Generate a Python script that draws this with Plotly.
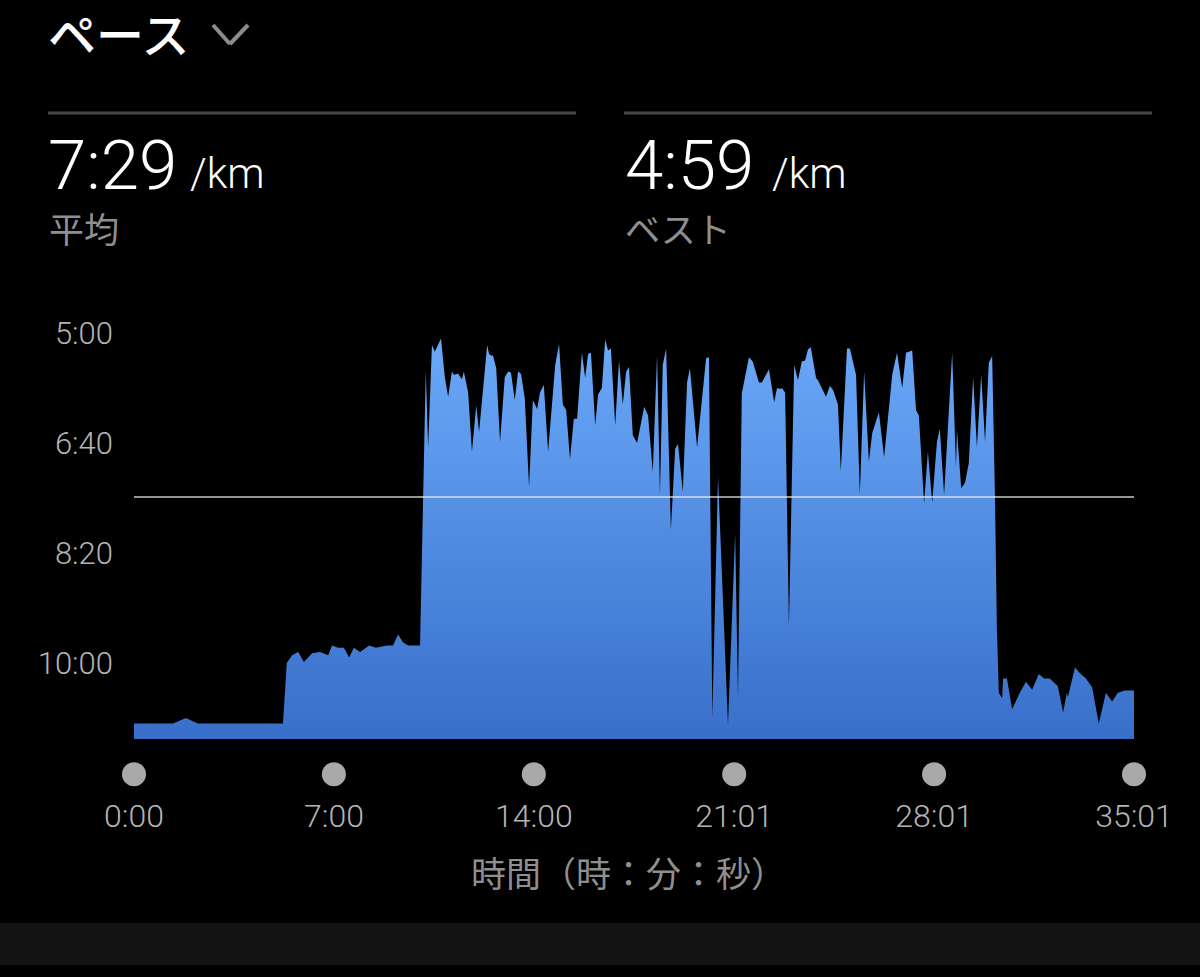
import plotly.graph_objects as go

# time since start (s) and pace (s per km)
elapsed_s = [
    0, 82, 109, 134, 313, 321, 332, 345, 357, 374, 391, 408, 416, 429, 441, 452, 462, 475, 494, 508,
    521, 532, 544, 555, 565, 576, 601, 607, 613, 618, 626, 632, 645, 653, 660, 668, 672, 681, 689, 693,
    702, 710, 719, 725, 742, 746, 752, 754, 761, 769, 779, 786, 792, 800, 807, 813, 821, 830, 838, 847,
    853, 861, 870, 885, 893, 901, 908, 916, 924, 931, 941, 948, 954, 960, 969, 975, 983, 990, 996, 1002,
    1011, 1019, 1027, 1034, 1040, 1048, 1057, 1072, 1080, 1090, 1099, 1105, 1111, 1118, 1128, 1137, 1143, 1153, 1162, 1168,
    1183, 1202, 1206, 1208, 1215, 1227, 1248, 1263, 1269, 1277, 1292, 1300, 1313, 1319, 1334, 1345, 1351, 1357, 1361, 1368,
    1376, 1387, 1395, 1403, 1410, 1416, 1422, 1433, 1437, 1454, 1462, 1469, 1479, 1485, 1498, 1504, 1517, 1525, 1534, 1544,
    1551, 1565, 1576, 1593, 1603, 1614, 1622, 1635, 1643, 1649, 1660, 1668, 1677, 1687, 1693, 1702, 1719, 1727, 1729, 1738,
    1746, 1754, 1763, 1771, 1780, 1788, 1796, 1803, 1809, 1813, 1817, 1824, 1826, 1834, 1845, 1861, 1874, 1887, 1901, 1912,
    1924, 1941, 1952, 1960, 1962, 1977, 1987, 2000, 2013, 2027, 2042, 2055, 2067, 2082, 2101,
]
pace_s = [
    655, 655, 650, 655, 655, 600, 593, 590, 599, 591, 590, 593, 584, 586, 586, 595, 586, 590, 584, 586,
    585, 584, 584, 574, 581, 584, 584, 449, 334, 404, 311, 317, 305, 340, 358, 335, 338, 337, 342, 335,
    354, 408, 366, 390, 311, 319, 321, 320, 332, 399, 340, 335, 336, 361, 335, 337, 359, 440, 361, 369,
    354, 347, 408, 329, 310, 365, 370, 415, 378, 378, 318, 341, 319, 318, 384, 356, 350, 306, 316, 314,
    384, 325, 365, 335, 331, 393, 400, 367, 375, 426, 320, 447, 329, 314, 479, 405, 401, 444, 345, 332,
    404, 323, 322, 322, 650, 431, 656, 482, 631, 355, 322, 326, 345, 345, 333, 363, 350, 351, 350, 354,
    567, 329, 343, 326, 325, 315, 313, 341, 343, 358, 348, 352, 365, 426, 314, 314, 338, 447, 335, 417,
    391, 372, 413, 338, 318, 350, 318, 316, 370, 375, 455, 408, 454, 399, 387, 447, 318, 422, 388, 441,
    436, 418, 340, 404, 338, 399, 327, 321, 452, 570, 627, 632, 614, 614, 642, 627, 617, 624, 610, 614,
    614, 621, 645, 627, 631, 604, 609, 614, 622, 655, 627, 635, 627, 625, 625,
]
average_pace_s = 449
baseline_s = 669
axis_bottom_s = 719

y_ticks = [300, 400, 500, 600]
y_labels = ["5:00", "6:40", "8:20", "10:00"]
x_ticks = [0, 420, 840, 1261, 1681, 2101]
x_labels = ["0:00", "7:00", "14:00", "21:01", "28:01", "35:01"]

# the plot area runs on below the fill so the dots sit inside the axis range
LEFT, RIGHT, TOP, BOTTOM = 134, 1134, 333, 794
LATIN = "Roboto, Liberation Sans, Noto Sans CJK JP"
CJK = "Noto Sans CJK JP, Liberation Sans"


def paper_x(px):
    return (px - LEFT) / (RIGHT - LEFT)


def paper_y(py):
    return (BOTTOM - py) / (BOTTOM - TOP)


def label(text, px, py, size, color, family=LATIN, anchor="left", weight=None):
    return dict(
        text=text, x=paper_x(px), y=paper_y(py), xref="paper", yref="paper",
        xanchor=anchor, yanchor="middle", showarrow=False,
        font=dict(size=size, color=color, family=family, weight=weight),
    )


fig = go.Figure()

# baseline first so the area can fill down to it
fig.add_trace(go.Scatter(
    x=[x_ticks[0], x_ticks[-1]], y=[baseline_s, baseline_s],
    mode="lines", line=dict(width=0), hoverinfo="skip",
))
fig.add_trace(go.Scatter(
    x=elapsed_s, y=pace_s, mode="lines", line=dict(width=0, color="#6aa6f6"),
    fill="tonexty",
    fillgradient=dict(type="vertical", colorscale=[[0, "#386fca"], [1, "#6aa8f8"]]),
))
fig.add_trace(go.Scatter(
    x=[x_ticks[0], x_ticks[-1]], y=[average_pace_s, average_pace_s],
    mode="lines", line=dict(width=1.5, color="rgba(235,235,235,0.85)"),
))
# round markers under the time axis
fig.add_trace(go.Scatter(
    x=x_ticks, y=[701] * len(x_ticks), mode="markers", cliponaxis=False,
    marker=dict(size=24, color="#a9a9a9"),
))

fig.update_xaxes(
    range=[x_ticks[0], x_ticks[-1]], showgrid=False, zeroline=False, showline=False,
    tickvals=x_ticks, ticktext=x_labels,
    tickfont=dict(size=32, color="#b4b4b4", family=LATIN, weight=300),
)
fig.update_yaxes(
    range=[axis_bottom_s, 300], showgrid=False, zeroline=False, showline=False,
    tickvals=y_ticks, ticktext=y_labels, ticklabelstandoff=20,
    tickfont=dict(size=31, color="#b4b4b4", family=LATIN, weight=300),
)

shapes = [
    dict(type="line", xref="paper", yref="paper", x0=paper_x(48), x1=paper_x(576),
         y0=paper_y(113), y1=paper_y(113), line=dict(color="#484848", width=3)),
    dict(type="line", xref="paper", yref="paper", x0=paper_x(624), x1=paper_x(1152),
         y0=paper_y(113), y1=paper_y(113), line=dict(color="#484848", width=3)),
    dict(type="line", xref="paper", yref="paper", x0=paper_x(213), x1=paper_x(230),
         y0=paper_y(25), y1=paper_y(44), line=dict(color="#8c8c8c", width=4)),
    dict(type="line", xref="paper", yref="paper", x0=paper_x(230), x1=paper_x(248),
         y0=paper_y(44), y1=paper_y(25), line=dict(color="#8c8c8c", width=4)),
    dict(type="rect", xref="paper", yref="paper", x0=paper_x(0), x1=paper_x(1200),
         y0=paper_y(923), y1=paper_y(965), fillcolor="#131313", line=dict(width=0)),
]

annotations = [
    label("ペース", 46, 32, 48, "#ffffff", CJK, weight=500),
    label("7:29", 46, 165, 69, "#ffffff", weight=300),
    label("/km", 188, 174, 42, "#ffffff", weight=300),
    label("平均", 47, 227, 35, "#8f8f8f", CJK),
    label("4:59", 623, 165, 69, "#ffffff", weight=300),
    label("/km", 770, 174, 42, "#ffffff", weight=300),
    label("ベスト", 623, 227, 35, "#8f8f8f", CJK),
    label("時間（時：分：秒）", 628, 871, 35, "#8f8f8f", CJK, anchor="center"),
]

fig.update_layout(
    width=1200, height=977, showlegend=False,
    margin=dict(l=LEFT, r=1200 - RIGHT, t=TOP, b=977 - BOTTOM),
    paper_bgcolor="#000000", plot_bgcolor="#000000",
    shapes=shapes, annotations=annotations,
)

fig.write_html(
    "out.html",
    config={"displayModeBar": False},
    post_script="document.body.style.margin='0';document.body.style.background='#000';",
)
